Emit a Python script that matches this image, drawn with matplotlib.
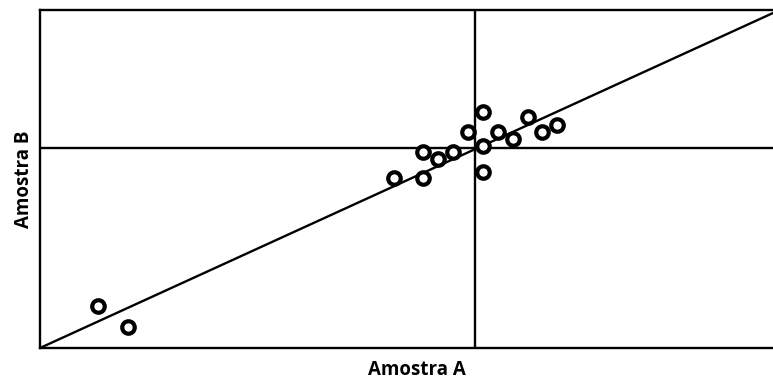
import numpy as np
import matplotlib
matplotlib.use('Agg')
import matplotlib.pyplot as plt

# sample values (arbitrary units)
amostra_a = [58, 88, 354, 383, 383, 398, 413, 428, 443, 443, 443, 458, 473, 488, 502, 517]
amostra_b = [42, 21, 170, 170, 196, 189, 196, 216, 236, 202, 176, 216, 209, 231, 216, 223]

# reference lines
mean_a = 435
mean_b = 200
fit_x = [0, 733]
fit_y = [0, 335]

x_range = [0, 733]
y_range = [0, 338]


def main():
    fig = plt.figure(figsize=(7.73, 3.80), dpi=100)
    ax = fig.add_axes([40 / 773, 1 - 348 / 380, 733 / 773, 338 / 380])

    # fitted line and crosshair
    ax.plot(fit_x, fit_y, color='black', linewidth=1.7, zorder=2)
    ax.axvline(mean_a, color='black', linewidth=1.7, zorder=1)
    ax.axhline(mean_b, color='black', linewidth=1.7, zorder=1)

    # the points
    ax.plot(amostra_a, amostra_b, linestyle='none', marker='o', markersize=9,
            markerfacecolor='white', markeredgecolor='black', markeredgewidth=3, zorder=3)

    ax.set_xlim(x_range)
    ax.set_ylim(y_range)
    ax.set_xticks([])
    ax.set_yticks([])
    for side in ['left', 'bottom', 'top']:
        ax.spines[side].set_linewidth(1.7)
    ax.spines['right'].set_visible(False)

    font = {'family': 'Open Sans', 'weight': 'bold', 'size': 13.5}
    ax.set_xlabel('Amostra A', fontdict=font)
    ax.set_ylabel('Amostra B', fontdict=font, labelpad=4)
    # the original plot area runs past the right edge, so the label sits right of centre
    ax.xaxis.set_label_coords(0.514, -0.036)
    ax.xaxis.label.set_verticalalignment('top')

    fig.savefig('out.png', dpi=100)


if __name__ == '__main__':
    main()
